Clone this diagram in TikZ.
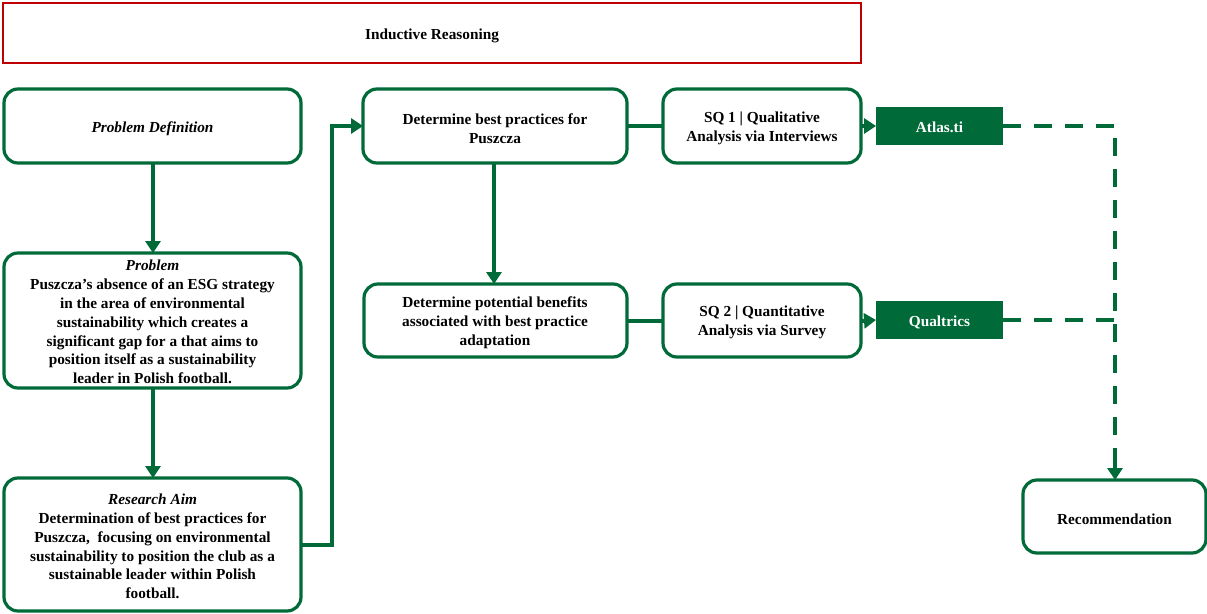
\documentclass[tikz,border=0pt]{standalone}
\usepackage{fontspec}
\setmainfont{Liberation Serif}
\usetikzlibrary{arrows.meta}
\definecolor{dgreen}{RGB}{0,106,57}
\definecolor{dred}{RGB}{192,0,0}
\begin{document}
\begin{tikzpicture}[x=1pt,y=-1pt,
  every node/.style={font=\fontsize{15.3}{18.8}\selectfont\bfseries, align=center, inner sep=0pt},
  rbox/.style={draw=dgreen, line width=3.2pt, rounded corners=14pt},
  conn/.style={draw=dgreen, line width=4pt},
  arr/.style={conn, -{Triangle[length=12pt,width=15pt]}},
  dashln/.style={draw=dgreen, line width=4pt, dash pattern=on 18pt off 13pt}
]
\useasboundingbox (0,0) rectangle (1207,613);
% title
\draw[dred, line width=2.5pt] (3,3) rectangle (861,63);
\node (title) at (432,35.5) {Inductive Reasoning};
% left column
\draw[rbox] (4,89) rectangle (301,163);
\node (pd) at (152.5,129) {\itshape Problem Definition};
\coordinate (pdB) at (153,163);
\draw[rbox] (4,253) rectangle (301,388);
\node (pr) at (152.5,322) {\itshape Problem\\Puszcza’s\ absence of an ESG strategy\\in the area of environmental\\sustainability which creates a\\significant gap for a that aims to\\position itself as a sustainability\\leader in Polish football.};
\coordinate (prT) at (153,253);
\coordinate (prB) at (153,388);
\draw[rbox] (4,478) rectangle (301,611);
\node (ra) at (152.5,546.5) {\itshape Research Aim\\Determination of best practices for\\Puszcza,\ \ focusing on environmental\\sustainability to position the club as a\\sustainable leader within Polish\\football.};
\coordinate (raT) at (153,478);
\coordinate (raR) at (301,545);
% middle
\draw[rbox] (363,89) rectangle (627,163);
\node (bp) at (495,128.5) {Determine best practices for\\Puszcza};
\coordinate (bpL) at (363,126);
\coordinate (bpR) at (627,126);
\coordinate (bpB) at (494,163);
\draw[rbox] (364,284) rectangle (627,357);
\node (pb) at (495,322.5) {Determine potential benefits\\associated with best practice\\adaptation};
\coordinate (pbT) at (494,284);
\coordinate (pbR) at (627,321);
\draw[rbox] (663,89) rectangle (861,163);
\node (sq1) at (762,128.5) {SQ\ 1 | Qualitative\\Analysis via Interviews};
\coordinate (sq1L) at (663,126);
\coordinate (sq1R) at (861,126);
\draw[rbox] (663,284) rectangle (861,357);
\node (sq2) at (762,322.5) {SQ\ 2 | Quantitative\\Analysis via Survey};
\coordinate (sq2L) at (663,321);
\coordinate (sq2R) at (861,321);
% tools
\fill[dgreen] (876,107) rectangle (1003,145);
\node[text=white] (at) at (939.5,127.5) {Atlas.ti};
\coordinate (atL) at (876,126);
\coordinate (atR) at (1003,126);
\fill[dgreen] (876,301) rectangle (1003,339);
\node[text=white] (qu) at (939.5,322.5) {Qualtrics};
\coordinate (quL) at (876,320);
\coordinate (quR) at (1003,320);
% recommendation
\draw[rbox] (1023,480) rectangle (1206,553);
\node (rec) at (1114.5,519.5) {Recommendation};
\coordinate (recT) at (1115,480);
\coordinate (jn) at (1115,126);
\coordinate (jq) at (1115,320);
\coordinate (jr) at (1115,468);
\coordinate (ja) at (1115,462);
% connectors
\draw[arr] (pdB) -- (prT);
\draw[arr] (prB) -- (raT);
\draw[arr] (raR) -- (332,545) -- (332,126) -- (bpL);
\draw[arr] (bpB) -- (pbT);
\draw[conn] (bpR) -- (sq1L);
\draw[conn] (pbR) -- (sq2L);
\draw[arr] (sq1R) -- (atL);
\draw[arr] (sq2R) -- (quL);
\draw[dashln] (atR) -- (jn) -- (jr);
\draw[arr] (ja) -- (recT);
\draw[dashln] (quR) -- (jq);
\end{tikzpicture}
\end{document}
